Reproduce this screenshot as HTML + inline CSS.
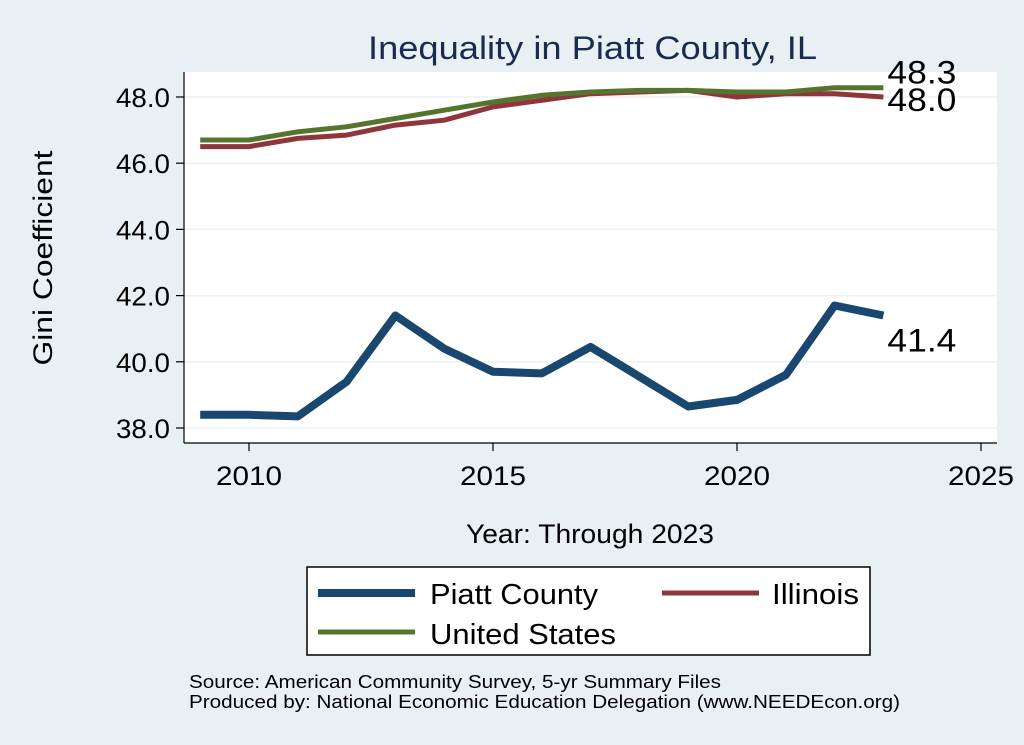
<!DOCTYPE html>
<html><head><meta charset="utf-8"><style>
body{margin:0;background:#e9f0f3;font-family:"Liberation Sans",sans-serif;}
svg{display:block}
</style></head><body>
<svg id="c" width="1024" height="745" font-family="Liberation Sans, sans-serif">
<rect width="1024" height="745" fill="#e9f0f3"/>
<text x="368" y="59" font-size="32" fill="#1a2b50" textLength="449" lengthAdjust="spacingAndGlyphs">Inequality in Piatt County, IL</text>
<rect x="184" y="72" width="813" height="371" fill="#fff"/>
<g id="grid"></g><g id="axes"></g><g id="lines"></g>
<text transform="translate(52,258) rotate(-90)" font-size="27" text-anchor="middle" textLength="215" lengthAdjust="spacingAndGlyphs">Gini Coefficient</text>
<text x="466" y="543" font-size="27" textLength="248" lengthAdjust="spacingAndGlyphs">Year: Through 2023</text>
<g>
<rect x="307" y="567" width="563" height="88" fill="#fff" stroke="#000" stroke-width="1.5"/>
<line x1="318" y1="593" x2="415" y2="593" stroke="#1a476f" stroke-width="8"/>
<text x="430" y="604" font-size="29" textLength="168" lengthAdjust="spacingAndGlyphs">Piatt County</text>
<line x1="662" y1="593" x2="759" y2="593" stroke="#90353b" stroke-width="5"/>
<text x="772" y="604" font-size="29" textLength="87" lengthAdjust="spacingAndGlyphs">Illinois</text>
<line x1="318" y1="632" x2="415" y2="632" stroke="#55752f" stroke-width="5"/>
<text x="430" y="644" font-size="29" textLength="186" lengthAdjust="spacingAndGlyphs">United States</text>
</g>
<text x="189" y="688" font-size="18" textLength="532" lengthAdjust="spacingAndGlyphs">Source: American Community Survey, 5-yr Summary Files</text>
<text x="189" y="708" font-size="18" textLength="711" lengthAdjust="spacingAndGlyphs">Produced by: National Economic Education Delegation (www.NEEDEcon.org)</text>
</svg>
<script>
const years=[2009,2010,2011,2012,2013,2014,2015,2016,2017,2018,2019,2020,2021,2022,2023];
const piatt=[38.4,38.4,38.35,39.4,41.4,40.4,39.7,39.65,40.45,39.55,38.65,38.85,39.6,41.7,41.4];
const illinois=[46.5,46.5,46.75,46.85,47.15,47.3,47.7,47.9,48.1,48.15,48.2,48.0,48.1,48.1,48.0];
const us=[46.7,46.7,46.95,47.1,47.35,47.6,47.85,48.05,48.15,48.2,48.2,48.15,48.15,48.28,48.28];
const yTicks=[38,40,42,44,46,48];
const xTicks=[2010,2015,2020,2025];
const X=v=>249+(v-2010)*48.8;
const Y=v=>428-(v-38)*33.1;
const NS="http://www.w3.org/2000/svg";
function mk(p,t,a){const e=document.createElementNS(NS,t);for(const k in a)e.setAttribute(k,a[k]);p.appendChild(e);return e;}
const grid=document.getElementById('grid'),axes=document.getElementById('axes'),lines=document.getElementById('lines');
yTicks.forEach(v=>{
 const g=mk(grid,'line',{x1:184,x2:997,y1:Y(v),y2:Y(v),stroke:'#eaf2f3','stroke-width':1.5});
 
 
 const t=mk(axes,'line',{x1:176,x2:184,y1:Y(v),y2:Y(v),stroke:'#000','stroke-width':1.2});
 
 
 const l=mk(axes,'text',{x:170,y:Y(v)+10,'font-size':27,'text-anchor':'end',textLength:54,lengthAdjust:'spacingAndGlyphs'});l.textContent=v.toFixed(1);
 
 
});
xTicks.forEach(v=>{
 const t=mk(axes,'line',{x1:X(v),x2:X(v),y1:443,y2:451,stroke:'#000','stroke-width':1.2});
 
 
 const l=mk(axes,'text',{x:X(v),y:485,'font-size':27,'text-anchor':'middle',textLength:66,lengthAdjust:'spacingAndGlyphs'});l.textContent=v;
 
 
});
const ya=mk(axes,'line',{x1:184,x2:184,y1:72,y2:443,stroke:'#000','stroke-width':1.2});


const xa=mk(axes,'line',{x1:184,x2:997,y1:443,y2:443,stroke:'#000','stroke-width':1.2});


function series(vals,color,w,name){
 const d=vals.map((v,i)=>(i?'L':'M')+X(years[i]).toFixed(1)+','+Y(v).toFixed(1)).join(' ');
 const p=mk(lines,'path',{d:d,fill:'none',stroke:color,'stroke-width':w,'stroke-linejoin':'round'});
 
 
}
series(illinois,'#90353b',5,'line-illinois');
series(us,'#55752f',5,'line-us');
series(piatt,'#1a476f',8,'line-piatt');
const n=years.length-1;
function lab(v,dy,name){
 const t=mk(lines,'text',{x:X(years[n])+4,y:Y(v)+dy,'font-size':32,textLength:69,lengthAdjust:'spacingAndGlyphs'});t.textContent=v.toFixed(1);
 
 
}
lab(us[n],-4,'label-us-last');
lab(illinois[n],14,'label-illinois-last');
lab(piatt[n],36,'label-piatt-last');
</script>
</body></html>
